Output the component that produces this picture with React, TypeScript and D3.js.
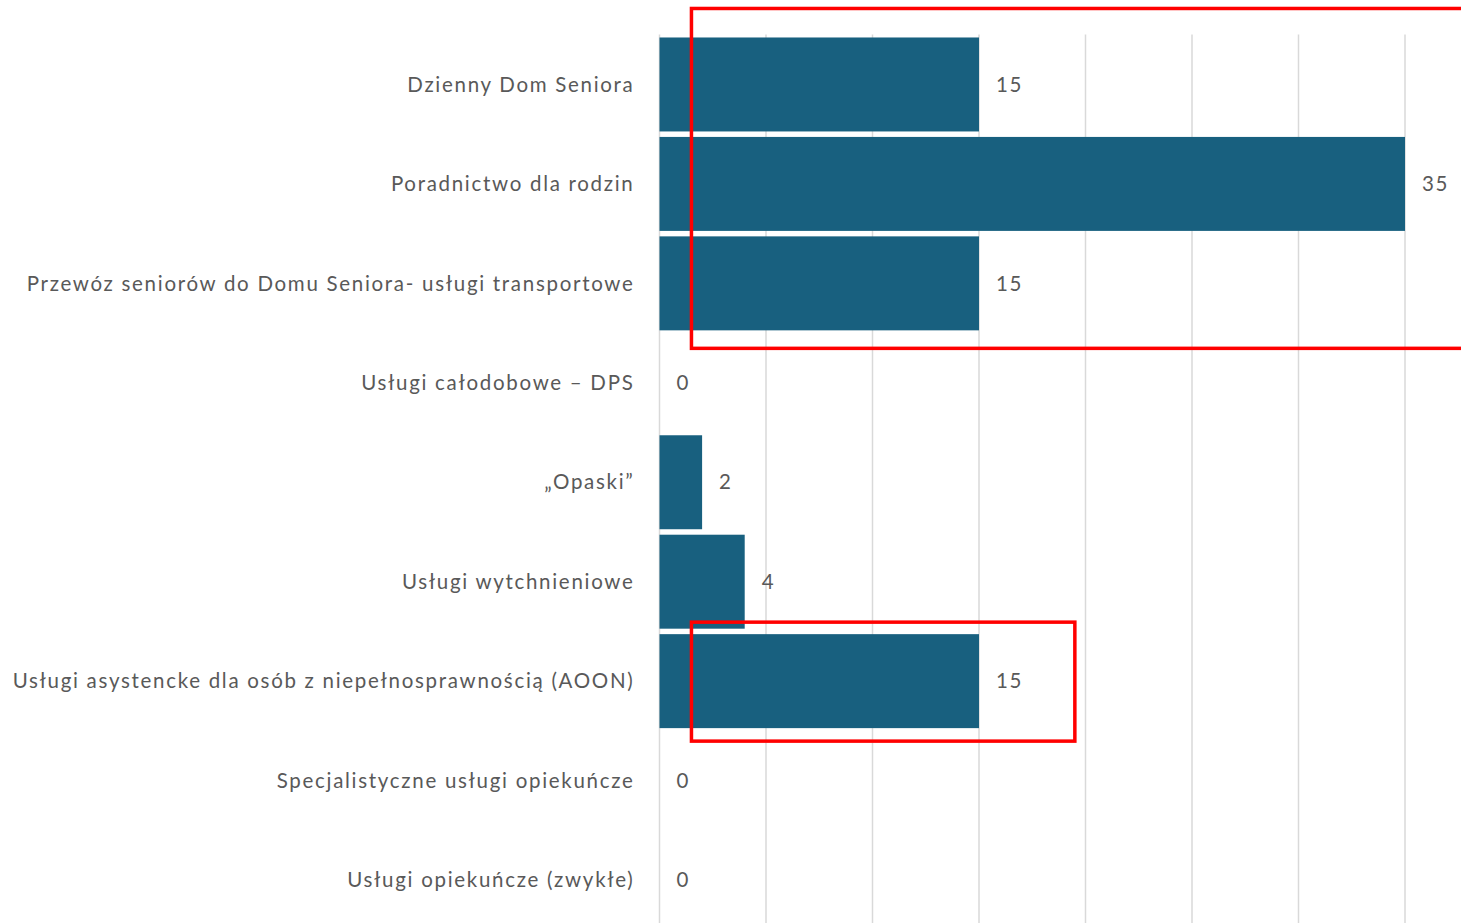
import React from "react";
import * as d3 from "d3";

const categories = [
  "Dzienny Dom Seniora",
  "Poradnictwo dla rodzin",
  "Przewóz seniorów do Domu Seniora- usługi transportowe",
  "Usługi całodobowe – DPS",
  "„Opaski”",
  "Usługi wytchnieniowe",
  "Usługi asystencke dla osób z niepełnosprawnością (AOON)",
  "Specjalistyczne usługi opiekuńcze",
  "Usługi opiekuńcze (zwykłe)",
];
const values = [15, 35, 15, 0, 2, 4, 15, 0, 0];
const gridTicks = [0, 5, 10, 15, 20, 25, 30, 35];

const W = 1461;
const H = 923;
const margin = { top: 34.5, right: 56, bottom: -7, left: 659.5 };
const FONT = "Lato, 'Open Sans', sans-serif";

export default function App() {
  const x = d3
    .scaleLinear()
    .domain([0, 35])
    .range([margin.left, W - margin.right]);
  const y = d3
    .scaleBand<string>()
    .domain(categories)
    .range([margin.top, H - margin.bottom])
    .paddingInner(0.055)
    .paddingOuter(0.03);
  const bw = y.bandwidth();
  const top = (c: string) => y(c) ?? 0;

  return (
    <svg
      width={W}
      height={H}
      style={{ position: "absolute", left: 0, top: 0, background: "#fff" }}
    >
      {/* grid */}
      {gridTicks.map((t) => (
        <line
          key={t}
          x1={x(t)}
          x2={x(t)}
          y1={margin.top}
          y2={H}
          stroke="#d9d9d9"
          strokeWidth={1.5}
        />
      ))}

      {/* bars */}
      {categories.map((c, i) => (
        <rect
          key={c}
          x={x(0)}
          y={top(c)}
          width={x(values[i]) - x(0)}
          height={bw}
          fill="#18607f"
        />
      ))}

      {/* value labels */}
      {categories.map((c, i) => (
        <text
          key={c + "v"}
          x={x(values[i]) + 17}
          y={top(c) + bw / 2}
          dy="0.35em"
          fontFamily={FONT}
          fontSize={20.5}
          letterSpacing={1.5}
          fill="#595959"
        >
          {values[i]}
        </text>
      ))}

      {/* category labels */}
      {categories.map((c) => (
        <text
          key={c + "l"}
          x={margin.left - 25}
          y={top(c) + bw / 2}
          dy="0.35em"
          textAnchor="end"
          fontFamily={FONT}
          fontSize={20.5}
          letterSpacing={1.7}
          fill="#595959"
        >
          {c}
        </text>
      ))}

      {/* red highlight boxes */}
      <rect
        x={x(1.5)}
        y={top(categories[0]) - 29}
        width={W - x(1.5) + 10}
        height={top(categories[2]) + bw + 18 - (top(categories[0]) - 29)}
        fill="none"
        stroke="#ff0000"
        strokeWidth={3.5}
      />
      <rect
        x={x(1.5)}
        y={top(categories[6]) - 12}
        width={x(19.5) - x(1.5)}
        height={bw + 25}
        fill="none"
        stroke="#ff0000"
        strokeWidth={3.5}
      />
    </svg>
  );
}
